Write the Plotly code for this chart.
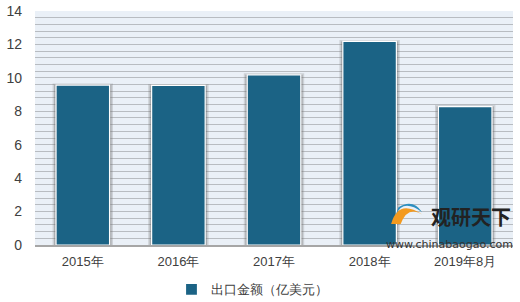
import plotly.graph_objects as go

categories = ["2015年", "2016年", "2017年", "2018年", "2019年8月"]
values = [9.57, 9.55, 10.18, 12.18, 8.28]
series_name = "出口金额（亿美元）"
y_ticks = [0, 2, 4, 6, 8, 10, 12, 14]

bar_color = "#1B6385"
font = "Liberation Sans, Arial, sans-serif"

fig = go.Figure()
# soft shadow behind the bars
fig.add_trace(go.Bar(
    x=categories, y=values, width=0.6, showlegend=False, hoverinfo="skip",
    marker=dict(color="rgba(90,90,90,0.35)", line=dict(color="rgba(120,120,120,0.25)", width=3)),
))
fig.add_trace(go.Bar(
    x=categories, y=values, width=0.56, name=series_name,
    marker=dict(color=bar_color, line=dict(color="#FFFFFF", width=1.2)),
))

fig.update_layout(
    width=520, height=302,
    margin=dict(l=35, r=7, t=11, b=57, autoexpand=False),
    paper_bgcolor="#FFFFFF",
    plot_bgcolor="#EAF0F7",
    barmode="overlay",
    font=dict(family=font, size=13, color="#404040"),
    showlegend=True,
    legend=dict(orientation="h", x=0.455, xanchor="center", y=-0.19, yanchor="middle",
                font=dict(size=13, color="#404040"), bgcolor="#FFFFFF",
                itemwidth=30),
    xaxis=dict(showgrid=False, showline=True, linecolor="#A6A6A6", linewidth=1.5,
               ticks="", ticklabelstandoff=4, tickfont=dict(size=13, color="#404040")),
    yaxis=dict(range=[0, 14], tickvals=y_ticks, showgrid=True, gridcolor="#B8BCC1", gridwidth=1,
               zeroline=False, showline=False, ticks="", ticklabelstandoff=12,
               tickfont=dict(size=14, color="#404040"),
               minor=dict(dtick=0.4, showgrid=True, gridcolor="#B8BCC1", gridwidth=1)),
)

# watermark logo (rough swirl) and text
fig.add_shape(type="path", xref="paper", yref="paper",
              path="M 0.745 0.09 Q 0.76 0.2 0.81 0.13 Q 0.78 0.17 0.765 0.09 Z",
              fillcolor="#F39A1E", line=dict(width=0))
fig.add_shape(type="path", xref="paper", yref="paper",
              path="M 0.755 0.13 Q 0.77 0.2 0.81 0.14 Q 0.79 0.2 0.76 0.16 Z",
              fillcolor="#2C8FC0", line=dict(width=0))
fig.add_annotation(text="<b>观研天下</b>", xref="paper", yref="paper", x=1.0, y=0.05,
                   xanchor="right", yanchor="bottom", showarrow=False,
                   font=dict(size=20, color="#222222", family="Noto Sans CJK SC"))
fig.add_annotation(text="www.chinabaogao.com", xref="paper", yref="paper", x=1.005, y=0.04,
                   xanchor="right", yanchor="top", showarrow=False,
                   font=dict(size=11, color="#333333", family="DejaVu Sans"))

fig.write_html("out.html")
